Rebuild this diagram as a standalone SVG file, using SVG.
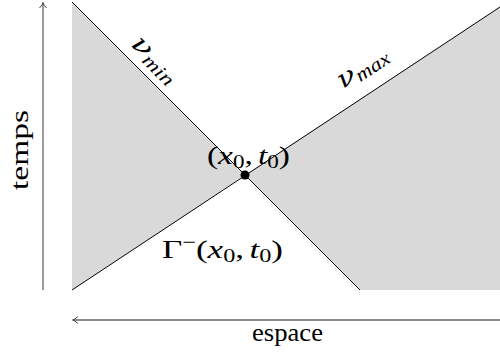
<svg xmlns="http://www.w3.org/2000/svg" width="500" height="352" viewBox="0 0 500 352">
<style>
.t{font-family:"Liberation Serif","DejaVu Serif",serif;fill:#000;font-size:26px}
.i{font-style:italic}
.ax{stroke:#666;stroke-width:1.3;fill:none}
.ln{stroke:#000;stroke-width:1;fill:none}
</style>
<defs>
<marker id="ah" markerWidth="10" markerHeight="10" refX="7" refY="5" orient="auto" markerUnits="userSpaceOnUse">
<path d="M2,1.5 Q5,4.5 7.5,5 Q5,5.5 2,8.5" stroke="#444" stroke-width="1" fill="none"/>
</marker>
</defs>
<g id="regions">
<polygon points="72,2 245,175 72,290" fill="#d9d9d9"/>
<polygon points="245,175 500,7 500,290 360,290" fill="#d9d9d9"/>
</g>
<g id="connectors">
<line class="ax" x1="43" y1="290" x2="43" y2="3" marker-end="url(#ah)"/>
<line class="ax" x1="500" y1="320" x2="73" y2="320" marker-end="url(#ah)"/>
<line class="ln" x1="72" y1="2" x2="360" y2="290"/>
<line class="ln" x1="72" y1="290" x2="500" y2="7"/>
</g>
<g id="point">
<circle cx="245" cy="175" r="4.5" fill="#000"/>
<text class="t" x="207" y="164" textLength="83" lengthAdjust="spacingAndGlyphs"><tspan>(</tspan><tspan class="i">x</tspan><tspan dy="4" font-size="18">0</tspan><tspan dy="-4">,</tspan><tspan class="i" dx="4">t</tspan><tspan dy="4" font-size="18">0</tspan><tspan dy="-4">)</tspan></text>
</g>
<g id="gamma">
<text class="t" x="162" y="258" textLength="121" lengthAdjust="spacingAndGlyphs"><tspan>Γ</tspan><tspan dy="-10" font-size="18">−</tspan><tspan dy="10">(</tspan><tspan class="i">x</tspan><tspan dy="4" font-size="18">0</tspan><tspan dy="-4">,</tspan><tspan class="i" dx="4">t</tspan><tspan dy="4" font-size="18">0</tspan><tspan dy="-4">)</tspan></text>
</g>
<g id="vmin">
<text class="t i" transform="translate(130,45) rotate(45)" textLength="56" lengthAdjust="spacingAndGlyphs"><tspan font-family="DejaVu Serif" font-size="25">ν</tspan><tspan dy="4" font-size="19">min</tspan></text>
</g>
<g id="vmax">
<text class="t i" transform="translate(343,89) rotate(-33.4)" textLength="56" lengthAdjust="spacingAndGlyphs"><tspan font-family="DejaVu Serif" font-size="25">ν</tspan><tspan dy="4" font-size="19">max</tspan></text>
</g>
<g id="axes-labels">
<text class="t" x="252" y="341" textLength="71" lengthAdjust="spacingAndGlyphs">espace</text>
<text class="t" transform="translate(28,190) rotate(-90)" textLength="80" lengthAdjust="spacingAndGlyphs">temps</text>
</g>
</svg>
